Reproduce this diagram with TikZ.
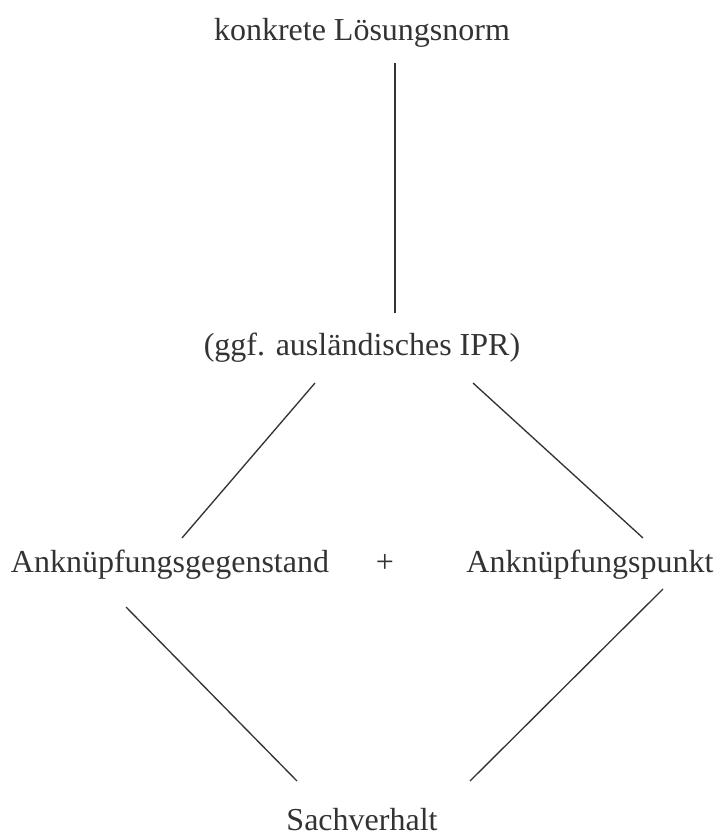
\documentclass[tikz,border=0pt]{standalone}
\usepackage{fontspec}
\setmainfont{Liberation Serif}
\usepackage{xcolor}
\definecolor{ink}{HTML}{333333}
\usetikzlibrary{positioning, calc}

\begin{document}
\begin{tikzpicture}[
    x=0.75pt, y=-0.75pt,
    term/.style={inner sep=0pt, anchor=base, text=ink, font=\fontsize{24}{28}\selectfont},
    link/.style={draw=ink, line width=1pt}
]
    \useasboundingbox (0,0) rectangle (720,835);

    % Levels
    \node[term] at (362,40) (norm) {konkrete Lösungsnorm};
    \node[term] at (362,355) (ipr) {(ggf. ausländisches IPR)};
    \node[term] at (170,572) (gegen) {Anknüpfungsgegenstand};
    \node[term] at (385,572) (plus) {+};
    \node[term] at (590,572) (punkt) {Anknüpfungspunkt};
    \node[term] at (362,830) (sach) {Sachverhalt};

    % Connections
    \draw[link] ($(norm.base)+(33,23)$) -- ($(ipr.base)+(33,-42)$);
    \draw[link] ($(ipr.base)+(-47,28)$) -- ($(gegen.base)+(12,-34)$);
    \draw[link] ($(ipr.base)+(111,28)$) -- ($(punkt.base)+(53,-34)$);
    \draw[link] ($(gegen.base)+(-44,35)$) -- ($(sach.base)+(-65,-49)$);
    \draw[link] ($(punkt.base)+(73,17)$) -- ($(sach.base)+(108,-49)$);

\end{tikzpicture}
\end{document}
